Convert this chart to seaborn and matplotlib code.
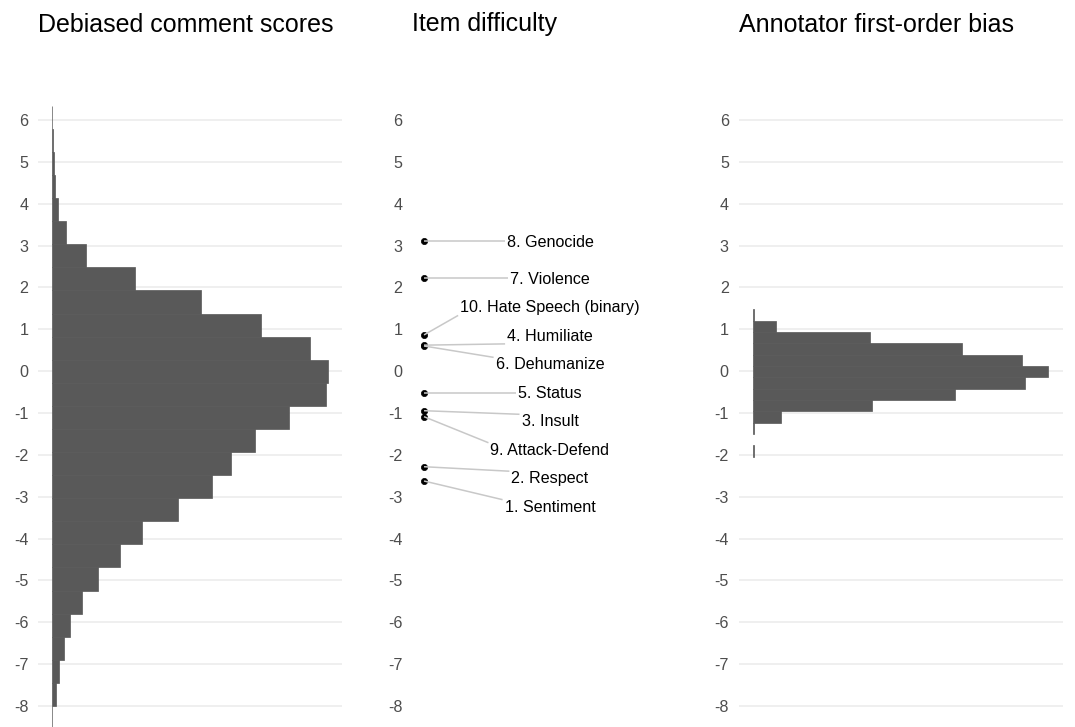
import numpy as np
import pandas as pd
import matplotlib
matplotlib.use("Agg")
import matplotlib.pyplot as plt
import seaborn as sns

# Debiased comment scores: bar lengths per bin, listed from the lowest bin upwards
score_bin_start = -8.55
score_bin_width = 0.5514
score_counts = [0.3, 3.7, 7, 11.7, 17.7, 30, 46, 68.3, 90, 125.7, 159.7, 178, 202,
                236.7, 273, 275.3, 256.7, 208.3, 148.3, 83, 34.3, 14.3, 6, 3, 1.7, 0.7, 0.3]

# Item difficulty
items = ["1. Sentiment", "2. Respect", "3. Insult", "4. Humiliate", "5. Status",
         "6. Dehumanize", "7. Violence", "8. Genocide", "9. Attack-Defend",
         "10. Hate Speech (binary)"]
difficulty = [-2.625, -2.284, -0.946, 0.62, -0.516, 0.60, 2.224, 3.108, -1.089, 0.865]

# Annotator first-order bias: bar lengths per bin, lowest bin first
bias_bin_start = -2.044
bias_bin_width = 0.2707
bias_counts = [0.3, 0, 1, 28.3, 120, 202.7, 273.7, 297, 270.7, 209.7, 117.7, 23, 0.3]

titles = ["Debiased comment scores", "Item difficulty", "Annotator first-order bias"]
y_ticks = list(range(-8, 7))

sns.set_theme(style="whitegrid")
plt.rcParams['font.family'] = ['Liberation Sans', 'DejaVu Sans']

W, H = 1075, 727
fig = plt.figure(figsize=(W / 100, H / 100), dpi=100)

bar_color = '#595959'
grid_color = '#ebebeb'
tick_color = '#4d4d4d'
y_top, y_bottom = 6.405, -8.502
panel_top = 103


def add_panel(left, right):
    ax = fig.add_axes([left / W, 0, (right - left) / W, (H - panel_top) / H])
    ax.set_facecolor('white')
    return ax


def style_panel(ax):
    ax.set_ylim(y_bottom, y_top)
    ax.set_yticks(y_ticks)
    ax.set_yticklabels([str(v) for v in y_ticks])
    ax.set_xticks([])
    ax.tick_params(axis='y', length=0, pad=7, labelsize=11.6, labelcolor=tick_color)
    for s in ax.spines.values():
        s.set_visible(False)
    ax.set_xlabel('')
    ax.set_ylabel('')


def draw_hist(ax, start, width, counts):
    counts = np.array(counts, dtype=float)
    edges = start + width * np.arange(len(counts) + 1)
    df = pd.DataFrame({'value': (edges[:-1] + edges[1:]) / 2, 'count': counts})
    sns.histplot(data=df, y='value', weights='count', bins=edges.tolist(), ax=ax,
                 color=bar_color, edgecolor=bar_color, linewidth=0.5, alpha=1)
    for p in ax.patches:
        if p.get_width() == 0:
            p.set_visible(False)
    ax.set_xlim(-0.05 * counts.max(), 1.05 * counts.max())
    ax.xaxis.grid(False)
    ax.yaxis.grid(True, color=grid_color, linewidth=1.1)
    ax.set_axisbelow(True)
    style_panel(ax)


# spread overlapping labels vertically: weighted pool-adjacent-violators with a
# minimum gap; labels whose points have no close neighbour are held in place
def spread_labels(values, gap):
    values = np.asarray(values, dtype=float)
    order = np.argsort(-values, kind='stable')
    sv = values[order]
    crowded = np.zeros(len(sv), dtype=bool)
    crowded[1:] |= (sv[:-1] - sv[1:]) < gap
    crowded[:-1] |= (sv[:-1] - sv[1:]) < gap
    weight = np.where(crowded, 1.0, 1000.0)
    target = sv + gap * np.arange(len(sv))
    blocks = []
    for t, w in zip(target, weight):
        blocks.append([t * w, w, 1])
        while len(blocks) > 1 and blocks[-1][0] / blocks[-1][1] > blocks[-2][0] / blocks[-2][1]:
            s, ww, c = blocks.pop()
            blocks[-1][0] += s
            blocks[-1][1] += ww
            blocks[-1][2] += c
    fitted = np.concatenate([[s / ww] * c for s, ww, c in blocks])
    pos = np.empty(len(values))
    pos[order] = fitted - gap * np.arange(len(sv))
    return pos


# Left panel
ax1 = add_panel(38, 342)
draw_hist(ax1, score_bin_start, score_bin_width, score_counts)

# Middle panel
ax2 = add_panel(412, 700)
point_x = 0.0417
label_x = 0.479
items_df = pd.DataFrame({'x': [point_x] * len(difficulty), 'difficulty': difficulty})
sns.scatterplot(data=items_df, x='x', y='difficulty', ax=ax2, color='black',
                s=20, edgecolor='black', linewidth=0.5, zorder=2, legend=False)
ax2.set_xlim(0, 1)
ax2.grid(False)
style_panel(ax2)
label_y = spread_labels(difficulty, 0.68)
texts = []
for name, ly in zip(items, label_y):
    texts.append(ax2.text(label_x, ly, name, ha='center', va='center_baseline',
                          fontsize=11.6, color='black', zorder=4))

fig.canvas.draw()
renderer = fig.canvas.get_renderer()
inv = ax2.transData.inverted()
for t, d in zip(texts, difficulty):
    bb = t.get_window_extent(renderer)
    (x0, y0), (x1, y1) = inv.transform([[bb.x0 - 2, bb.y0], [bb.x1, bb.y1]])
    ey = min(max(d, y0), y1)
    ax2.plot([point_x, x0], [d, ey], color='#c8c8c8', linewidth=1.1, zorder=3,
             solid_capstyle='butt')

# Right panel
ax3 = add_panel(738.5, 1063)
draw_hist(ax3, bias_bin_start, bias_bin_width, bias_counts)

# Titles, left-aligned with each panel
for title, left in zip(titles, [38, 412, 739]):
    fig.text(left / W, 1 - 31.5 / H, title, fontsize=18, ha='left', va='baseline',
             color='black')

fig.savefig('out.png', dpi=100, facecolor='white')
